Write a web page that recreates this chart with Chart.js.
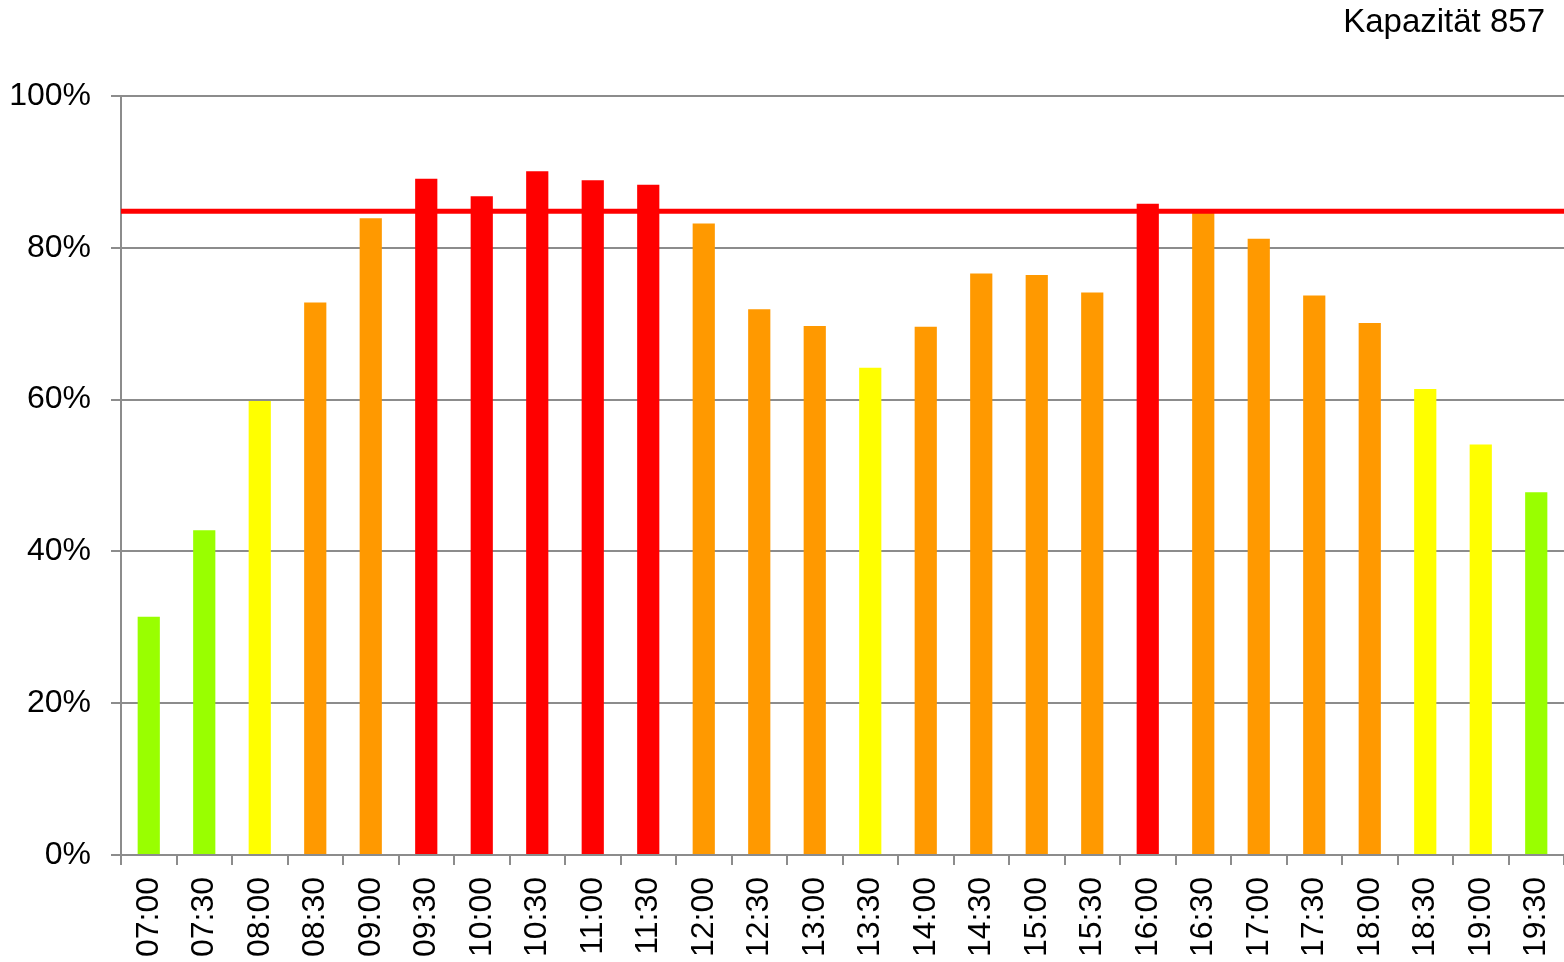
<!DOCTYPE html>
<html>
<head>
<meta charset="utf-8">
<script src="https://cdn.jsdelivr.net/npm/chart.js@4"></script>
<style>
  html, body { margin: 0; padding: 0; background: #fff; }
  #wrap { position: relative; width: 1564px; height: 962px; }
  #title { position: absolute; right: 19px; top: 1px; font-family: "Liberation Sans", Arial, sans-serif; font-size: 33px; color: #000; line-height: 40px; }
</style>
</head>
<body>
<div id="wrap">
  <canvas id="c" width="1564" height="962"></canvas>
  <div id="title">Kapazität 857</div>
</div>
<script>
const categories = ["07:00","07:30","08:00","08:30","09:00","09:30","10:00","10:30","11:00","11:30","12:00","12:30","13:00","13:30","14:00","14:30","15:00","15:30","16:00","16:30","17:00","17:30","18:00","18:30","19:00","19:30"];
const occupancy = [31.4, 42.8, 59.8, 72.8, 83.9, 89.1, 86.8, 90.1, 88.9, 88.3, 83.2, 71.9, 69.7, 64.2, 69.6, 76.6, 76.4, 74.1, 85.8, 84.6, 81.2, 73.7, 70.1, 61.4, 54.1, 47.8];
const limitLevel = 84.8;
const yTicks = [0, 20, 40, 60, 80, 100];

function barColor(v) {
  if (v < 50) return '#99ff00';
  if (v < 65) return '#ffff00';
  if (v < 85) return '#ff9900';
  return '#ff0000';
}

const FONT = '"Liberation Sans", Arial, sans-serif';
const GRID = '#8c8c8c';

new Chart(document.getElementById('c'), {
  type: 'bar',
  data: {
    labels: categories,
    datasets: [
      {
        type: 'bar',
        data: occupancy,
        backgroundColor: occupancy.map(barColor),
        borderWidth: 0,
        barPercentage: 0.4,
        categoryPercentage: 1.0,
        grouped: false,
        order: 2,
        xAxisID: 'x',
        yAxisID: 'y'
      },
      {
        type: 'line',
        data: [{x: 0, y: limitLevel}, {x: 1, y: limitLevel}],
        borderColor: '#ff0000',
        borderWidth: 5,
        pointRadius: 0,
        fill: false,
        order: 1,
        xAxisID: 'x2',
        yAxisID: 'y'
      }
    ]
  },
  options: {
    responsive: false,
    animation: false,
    devicePixelRatio: 1,
    layout: { padding: { top: 96, left: 0, right: 0, bottom: 0 } },
    plugins: { legend: { display: false }, tooltip: { enabled: false }, title: { display: false } },
    scales: {
      x: {
        type: 'category',
        offset: true,
        grid: { offset: true, drawOnChartArea: false, drawTicks: true, tickLength: 10, color: GRID, lineWidth: 2 },
        border: { display: true, color: GRID, width: 2 },
        ticks: { color: '#000', font: { family: FONT, size: 32 }, minRotation: 90, maxRotation: 90, padding: 12, autoSkip: false },
        afterFit: s => { s.height = 107; s.paddingLeft = 0; s.paddingRight = 0; }
      },
      x2: {
        type: 'linear',
        display: false,
        offset: false,
        grid: { offset: false },
        bounds: 'ticks',
        min: 0,
        max: 1
      },
      y: {
        type: 'linear',
        min: 0,
        max: 100,
        afterBuildTicks: s => { s.ticks = yTicks.map(v => ({ value: v })); },
        grid: { color: GRID, lineWidth: 2, tickLength: 10, drawTicks: true },
        border: { display: true, color: GRID, width: 2 },
        ticks: { color: '#000', font: { family: FONT, size: 32 }, padding: 20, callback: v => v + '%' },
        afterFit: s => { s.width = 121; }
      }
    }
  }
});
</script>
</body>
</html>
